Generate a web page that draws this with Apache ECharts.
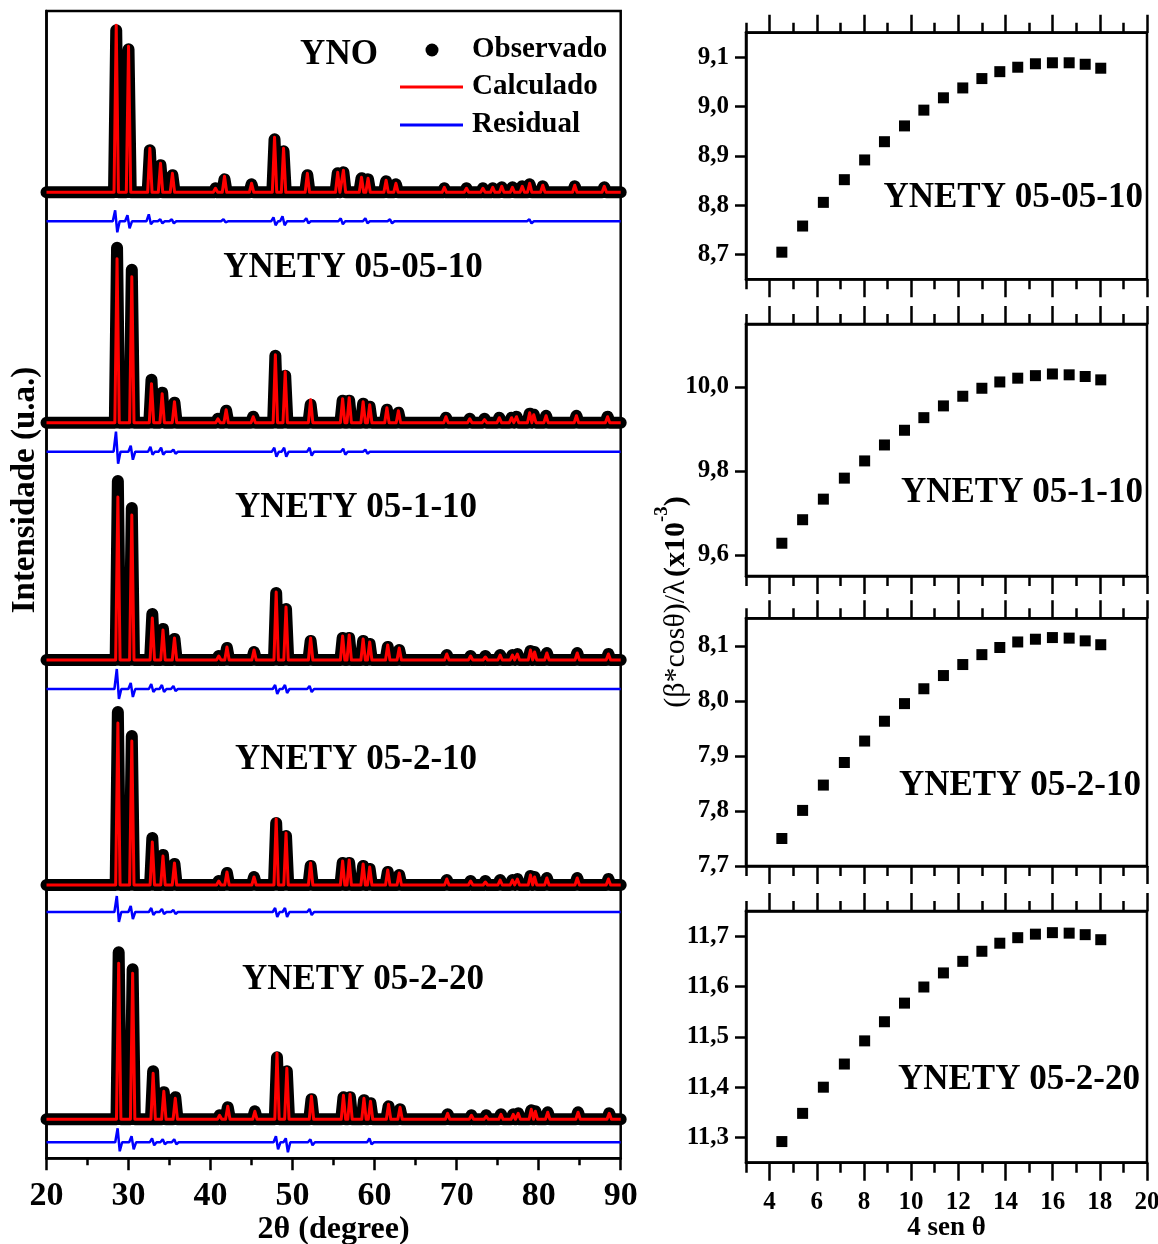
<!DOCTYPE html>
<html>
<head>
<meta charset="utf-8">
<script src="https://cdn.jsdelivr.net/npm/echarts@6/dist/echarts.min.js"></script>
<style>
  html, body { margin: 0; padding: 0; background: #fff; }
  #chart { width: 1158px; height: 1244px; }
</style>
</head>
<body>
<div id="chart"></div>
<script>
const FONT = '"Liberation Serif", "Times New Roman", serif';

// ---------- Rietveld refinement patterns ----------
const twoThetaRange = [20, 90];
const sampleNames = ['YNO', 'YNETY 05-05-10', 'YNETY 05-1-10', 'YNETY 05-2-10', 'YNETY 05-2-20'];

// reflections: [2θ (deg), calculated intensity, observed intensity] in u.a.
const peaksYNO = [
  [28.5,167,162],[30.0,146,143],[32.6,44,42],[33.9,29,27],[35.35,19,17],[40.6,4,4],[41.7,16,13],
  [45.0,9,8],[47.8,55,53],[48.9,44,41],[51.8,19,17],[55.5,20,19],[56.2,22,20],[58.4,15,14],
  [59.2,14,13],[61.4,12,11],[62.6,9,8],[68.5,5,4],[71.2,4,4],[73.2,4,4],[74.4,5,4],[75.5,6,5],
  [76.8,5,5],[78.0,6,6],[78.9,9,8],[80.5,7,6],[84.4,7,6],[88.0,6,5]
];
const peaks05_05_10 = [
  [28.6,164,175],[30.4,146,153],[32.8,39,43],[34.1,29,30],[35.6,21,20],[40.9,4,4],[41.9,13,12],
  [45.2,6,6],[47.9,68,67],[49.1,51,47],[52.2,23,18],[56.1,24,22],[56.9,25,22],[58.6,21,19],
  [59.4,18,16],[61.5,15,13],[62.9,12,10],[68.7,6,5],[71.6,4,4],[73.4,3,4],[75.2,5,5],[76.7,5,5],
  [77.3,6,6],[78.9,10,9],[79.4,8,8],[80.9,7,7],[84.6,7,7],[88.4,6,6]
];
const peaks05_1_10 = [
  [28.7,163,179],[30.4,145,152],[32.9,42,46],[34.2,30,31],[35.6,22,21],[41.0,4,4],[42.0,13,12],
  [45.3,10,8],[48.0,68,67],[49.2,53,51],[52.2,22,19],[56.1,24,22],[56.9,25,22],[58.6,21,19],
  [59.4,18,16],[61.6,15,13],[63.0,12,10],[68.8,6,5],[71.7,4,4],[73.5,3,4],[75.3,5,5],[76.8,5,5],
  [77.4,6,6],[79.0,10,9],[79.5,8,8],[81.0,7,7],[84.7,7,7],[88.5,6,6]
];
const peaks05_2_10 = [
  [28.7,162,173],[30.4,144,149],[32.9,43,47],[34.2,29,30],[35.6,22,21],[41.0,4,4],[42.0,13,12],
  [45.3,8,8],[48.0,66,62],[49.2,52,49],[52.2,22,19],[56.1,24,22],[56.9,25,22],[58.6,21,19],
  [59.4,18,16],[61.6,15,13],[63.0,12,10],[68.8,6,5],[71.7,4,4],[73.5,3,4],[75.3,5,5],[76.8,5,5],
  [77.4,6,6],[79.0,10,9],[79.5,8,8],[81.0,7,7],[84.7,7,7],[88.5,6,6]
];
const peaks05_2_20 = [
  [28.8,156,167],[30.5,146,150],[33.0,46,48],[34.3,28,27],[35.7,21,22],[41.1,4,4],[42.1,13,12],
  [45.4,8,8],[48.1,66,62],[49.3,51,48],[52.3,23,20],[56.2,24,22],[57.0,25,22],[58.7,21,19],
  [59.5,18,16],[61.7,15,13],[63.1,12,10],[68.9,6,5],[71.8,4,4],[73.6,3,4],[75.4,5,5],[76.9,5,5],
  [77.5,6,6],[79.1,10,9],[79.6,8,8],[81.1,7,7],[84.8,7,7],[88.6,6,6]
];

// difference curve excursions: [2θ (deg), above, below] in u.a.
const residYNO = [[28.5,11,11],[30.0,6,7],[32.6,7,3],[34.0,2,2],[35.4,2,2],[41.7,2,1],[47.8,4,4],
  [48.9,5,4],[51.8,3,2],[56.0,3,3],[59.0,3,2],[62.0,2,2],[79.0,2,2]];
const resid05_05_10 = [[28.6,20,12],[30.4,6,8],[32.8,5,3],[34.1,4,3],[35.6,2,2],[47.9,4,5],[49.1,4,5],
  [52.2,4,4],[56.3,3,3],[59.0,2,2]];
const resid05_1_10 = [[28.7,20,10],[30.4,6,8],[32.9,5,3],[34.2,4,3],[35.6,3,2],[48.0,4,5],[49.2,4,4],
  [52.2,3,3]];
const resid05_2_10 = [[28.7,16,10],[30.4,6,7],[32.9,4,3],[34.2,3,2],[35.6,2,2],[48.0,4,5],[49.2,4,5],
  [52.2,3,3]];
const resid05_2_20 = [[28.8,14,9],[30.5,6,7],[33.0,4,3],[34.3,3,2],[35.7,3,2],[48.1,6,7],[49.3,4,10],
  [52.3,3,3],[59.5,4,2]];

const peakSets = [peaksYNO, peaks05_05_10, peaks05_1_10, peaks05_2_10, peaks05_2_20];
const residSets = [residYNO, resid05_05_10, resid05_1_10, resid05_2_10, resid05_2_20];

// ---------- Williamson–Hall plots ----------
const whNames = ['YNETY 05-05-10', 'YNETY 05-1-10', 'YNETY 05-2-10', 'YNETY 05-2-20'];
const fourSinTheta = [4.52,5.40,6.28,7.17,8.03,8.87,9.72,10.54,11.37,12.19,13.00,13.76,14.52,15.27,15.99,16.70,17.38,18.04];
const wh05_05_10 = [8.705,8.758,8.806,8.852,8.892,8.929,8.961,8.993,9.018,9.038,9.057,9.071,9.080,9.087,9.089,9.089,9.086,9.078];
const wh05_1_10  = [9.628,9.684,9.733,9.783,9.824,9.862,9.897,9.927,9.955,9.978,9.997,10.012,10.021,10.027,10.031,10.029,10.025,10.017];
const wh05_2_10  = [7.750,7.801,7.847,7.888,7.927,7.963,7.995,8.022,8.046,8.066,8.084,8.097,8.107,8.112,8.115,8.114,8.109,8.102];
const wh05_2_20  = [11.292,11.348,11.400,11.446,11.492,11.530,11.567,11.599,11.627,11.650,11.670,11.686,11.697,11.704,11.707,11.706,11.703,11.693];
const whSets = [wh05_05_10, wh05_1_10, wh05_2_10, wh05_2_20];

const whXRange = [3, 20];
const whXMajor = [4, 6, 8, 10, 12, 14, 16, 18, 20];
const whXMinor = [3, 5, 7, 9, 11, 13, 15, 17, 19];
const whYRanges = [[8.65, 9.15], [9.55, 10.15], [7.7, 8.15], [11.25, 11.75]];
const whYTicks = [
  [8.7, 8.8, 8.9, 9.0, 9.1],
  [9.6, 9.8, 10.0],
  [7.7, 7.8, 7.9, 8.0, 8.1],
  [11.3, 11.4, 11.5, 11.6, 11.7]
];

// ---------- layout (pixels) ----------
const L = { x0: 46.5, x1: 620.7, y0: 11, y1: 1158.3 };
const baselineY = [192.3, 422.7, 660, 885, 1119.3];   // zero level of each pattern
const residualY = [221.3, 451.7, 689, 912, 1142.3];    // zero level of each difference curve
const laneTop = 180, laneBottom = -10, residHalf = 20;
const R = { x0: 746, x1: 1147 };
const panelY = [[32.7, 279.3], [324, 576], [618.3, 866], [911, 1162.7]];
const leftLabelPos = [[339, 55], [353, 268], [356, 508], [356, 760], [363, 980]];
const rightLabelPos = [[1143, 198], [1143, 493], [1141, 786], [1140, 1080]];

// ---------- helpers ----------
// vertex spacing is kept above ~2 px so the renderer never drops a vertex
const PEAK_HW = 0.27;
function profile(peaks, col) {
  const pts = [[twoThetaRange[0], 0]];
  peaks.forEach(p => pts.push([p[0] - PEAK_HW, 0], [p[0], p[col]], [p[0] + PEAK_HW, 0]));
  pts.push([twoThetaRange[1], 0]);
  return pts;
}
function residual(spikes) {
  const pts = [[twoThetaRange[0], 0]];
  spikes.forEach(s => pts.push([s[0] - 0.42, 0], [s[0] - 0.13, s[1]], [s[0] + 0.13, -s[2]], [s[0] + 0.42, 0]));
  pts.push([twoThetaRange[1], 0]);
  return pts;
}
const comma = v => v.toFixed(1).replace('.', ',');
const boldText = (size) => ({ fontFamily: FONT, fontWeight: 'bold', fontSize: size, color: '#000' });
const gridBase = { outerBoundsMode: 'none', containLabel: false };

const grids = [], xAxes = [], yAxes = [], series = [], graphics = [];

// outer frame of the refinement panel
grids.push(Object.assign({ left: L.x0, top: L.y0, width: L.x1 - L.x0, height: L.y1 - L.y0,
  show: true, borderColor: '#000', borderWidth: 2.5, backgroundColor: 'transparent' }, gridBase));
xAxes.push({
  gridIndex: 0, type: 'value', min: twoThetaRange[0], max: twoThetaRange[1], interval: 10,
  axisLine: { lineStyle: { color: '#000', width: 2.5 } },
  axisTick: { inside: false, length: 12, lineStyle: { color: '#000', width: 2.5 } },
  minorTick: { show: true, splitNumber: 2, length: 7, lineStyle: { color: '#000', width: 2.5 } },
  splitLine: { show: false },
  axisLabel: Object.assign({ margin: 21 }, boldText(34)),
  name: '2θ (degree)', nameLocation: 'middle', nameGap: 55, nameMoveOverlap: false,
  nameTextStyle: boldText(32)
});
yAxes.push({
  gridIndex: 0, type: 'value', min: 0, max: 1,
  axisLine: { show: true, lineStyle: { color: '#000', width: 2.5 } },
  axisTick: { show: false }, axisLabel: { show: false }, splitLine: { show: false }
});
graphics.push({
  type: 'text', x: 25, y: 490, rotation: Math.PI / 2, z: 10,
  style: { text: 'Intensidade (u.a.)', font: 'bold 33px ' + FONT, fill: '#000',
    align: 'center', verticalAlign: 'middle', textAlign: 'center', textVerticalAlign: 'middle' }
});

// each sample: a pattern lane and a difference lane, sharing the 2θ scale
const hiddenX = (g) => ({ gridIndex: g, type: 'value', min: twoThetaRange[0], max: twoThetaRange[1], show: false });
for (let i = 0; i < 5; i++) {
  let g = grids.length;
  grids.push(Object.assign({ left: L.x0, width: L.x1 - L.x0, top: baselineY[i] - laneTop, height: laneTop - laneBottom }, gridBase));
  xAxes.push(hiddenX(g));
  yAxes.push({ gridIndex: g, type: 'value', min: laneBottom, max: laneTop, show: false });
  let xi = xAxes.length - 1, yi = yAxes.length - 1;
  series.push({
    name: 'Observado', type: 'line', xAxisIndex: xi, yAxisIndex: yi, data: profile(peakSets[i], 2),
    symbol: 'none', clip: false, z: 2, color: '#000',
    lineStyle: { color: '#000', width: 12, join: 'round', cap: 'round' }
  });
  series.push({
    name: 'Calculado', type: 'line', xAxisIndex: xi, yAxisIndex: yi, data: profile(peakSets[i], 1),
    symbol: 'none', clip: false, z: 3, color: '#ff0000',
    lineStyle: { color: '#ff0000', width: 3, join: 'round' }
  });

  g = grids.length;
  grids.push(Object.assign({ left: L.x0, width: L.x1 - L.x0, top: residualY[i] - residHalf, height: 2 * residHalf }, gridBase));
  xAxes.push(hiddenX(g));
  yAxes.push({ gridIndex: g, type: 'value', min: -residHalf, max: residHalf, show: false });
  xi = xAxes.length - 1; yi = yAxes.length - 1;
  series.push({
    name: 'Residual', type: 'line', xAxisIndex: xi, yAxisIndex: yi, data: residual(residSets[i]),
    symbol: 'none', clip: false, z: 3, color: '#0000ff',
    lineStyle: { color: '#0000ff', width: 2.5 }
  });

  graphics.push({
    type: 'text', x: leftLabelPos[i][0], y: leftLabelPos[i][1], z: 10,
    style: { text: sampleNames[i], font: 'bold 35px ' + FONT, fill: '#000',
      align: 'center', verticalAlign: 'middle', textAlign: 'center', textVerticalAlign: 'middle' }
  });
}

// Williamson–Hall panels
const tickStyle = { color: '#000', width: 2.5 };
for (let k = 0; k < 4; k++) {
  const g = grids.length;
  grids.push(Object.assign({ left: R.x0, width: R.x1 - R.x0, top: panelY[k][0], height: panelY[k][1] - panelY[k][0],
    show: true, borderColor: '#000', borderWidth: 2.5, backgroundColor: 'transparent' }, gridBase));
  const last = k === 3;
  const base = { gridIndex: g, type: 'value', min: whXRange[0], max: whXRange[1], splitLine: { show: false } };
  // bottom, major ticks (carries the data)
  xAxes.push(Object.assign({}, base, {
    position: 'bottom',
    axisLine: { lineStyle: tickStyle },
    axisTick: { inside: false, length: 18, customValues: whXMajor, lineStyle: tickStyle },
    axisLabel: last ? Object.assign({ margin: 27, customValues: whXMajor }, boldText(25)) : { show: false },
    name: last ? '4 sen θ' : '', nameLocation: 'middle', nameGap: 52, nameMoveOverlap: false,
    nameTextStyle: boldText(27)
  }));
  const dataX = xAxes.length - 1;
  // bottom, minor ticks
  xAxes.push(Object.assign({}, base, {
    position: 'bottom', axisLine: { show: false }, axisLabel: { show: false },
    axisTick: { inside: false, length: 10, customValues: whXMinor, lineStyle: tickStyle }
  }));
  // top, major and minor ticks
  xAxes.push(Object.assign({}, base, {
    position: 'top', axisLine: { lineStyle: tickStyle }, axisLabel: { show: false },
    axisTick: { inside: false, length: 18, customValues: whXMajor, lineStyle: tickStyle }
  }));
  xAxes.push(Object.assign({}, base, {
    position: 'top', axisLine: { show: false }, axisLabel: { show: false },
    axisTick: { inside: false, length: 10, customValues: whXMinor, lineStyle: tickStyle }
  }));
  yAxes.push({
    gridIndex: g, type: 'value', min: whYRanges[k][0], max: whYRanges[k][1], splitLine: { show: false },
    axisLine: { lineStyle: tickStyle },
    axisTick: { inside: false, length: 11, customValues: whYTicks[k], lineStyle: tickStyle },
    axisLabel: Object.assign({ margin: 17, customValues: whYTicks[k], formatter: comma }, boldText(25))
  });
  series.push({
    name: whNames[k], type: 'scatter', xAxisIndex: dataX, yAxisIndex: yAxes.length - 1,
    data: fourSinTheta.map((x, j) => [x, whSets[k][j]]),
    symbol: 'rect', symbolSize: 11, itemStyle: { color: '#000', opacity: 1 }, z: 3
  });
  graphics.push({
    type: 'text', x: rightLabelPos[k][0], y: rightLabelPos[k][1], z: 10,
    style: { text: whNames[k], font: 'bold 35px ' + FONT, fill: '#000',
      align: 'right', verticalAlign: 'middle', textAlign: 'right', textVerticalAlign: 'middle' }
  });
}

// shared y title of the Williamson–Hall column
graphics.push({
  type: 'text', x: 672, y: 602, rotation: Math.PI / 2, z: 10,
  style: {
    text: '{a|(β*cosθ)/λ} {b|(x10}{c|-3}{b|)}',
    align: 'center', verticalAlign: 'middle', textAlign: 'center', textVerticalAlign: 'middle',
    fill: '#000',
    rich: {
      a: { fontFamily: FONT, fontSize: 30, fontWeight: 'normal', lineHeight: 38, verticalAlign: 'bottom' },
      b: { fontFamily: FONT, fontSize: 30, fontWeight: 'bold', lineHeight: 38, verticalAlign: 'bottom' },
      c: { fontFamily: FONT, fontSize: 19, fontWeight: 'bold', lineHeight: 38, verticalAlign: 'top' }
    }
  }
});

const legendText = (pad) => Object.assign({ padding: [0, 0, 0, pad] }, boldText(29));
const option = {
  backgroundColor: '#fff',
  animation: false,
  grid: grids,
  xAxis: xAxes,
  yAxis: yAxes,
  series: series,
  graphic: graphics,
  legend: [
    { left: 425.5, top: 35.5, padding: 0, itemWidth: 13, itemHeight: 13, selectedMode: false,
      data: [{ name: 'Observado', icon: 'circle' }], textStyle: legendText(28.5) },
    { left: 400, top: 72.5, padding: 0, itemWidth: 63, itemHeight: 3, selectedMode: false,
      data: [{ name: 'Calculado', icon: 'rect' }], textStyle: legendText(4) },
    { left: 400, top: 110.5, padding: 0, itemWidth: 63, itemHeight: 3, selectedMode: false,
      data: [{ name: 'Residual', icon: 'rect' }], textStyle: legendText(4) }
  ]
};

const chart = echarts.init(document.getElementById('chart'), null, { renderer: 'canvas' });
chart.setOption(option);
</script>
</body>
</html>
